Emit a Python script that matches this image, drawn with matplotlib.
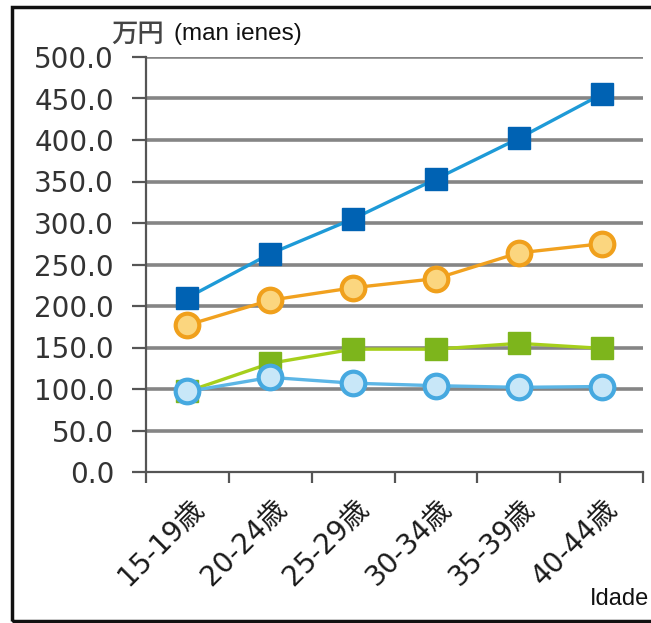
import matplotlib.pyplot as plt
from matplotlib.patches import Rectangle
from matplotlib.ticker import FixedLocator, NullFormatter
import matplotlib.transforms as mtransforms

# Data (万円)
ages = ["15-19歳", "20-24歳", "25-29歳", "30-34歳", "35-39歳", "40-44歳"]
dark_blue = [210, 263, 305, 353, 402, 455]
orange = [177, 207, 222, 233, 264, 275]
green = [97, 131, 148, 148, 155, 149]
light_blue = [97, 114, 107, 104, 102, 103]

yticks = [0, 50, 100, 150, 200, 250, 300, 350, 400, 450, 500]

W, H = 651, 623
fig = plt.figure(figsize=(W / 100, H / 100), dpi=100)
ax = fig.add_axes([146 / W, (H - 472) / H, (643 - 146) / W, (472 - 57) / H])

x = list(range(len(ages)))

# gridlines
for v in yticks[1:]:
    ax.axhline(v, color="#858585", lw=2.6, zorder=1)

# series
ax.plot(x, green, color="#a6cf1c", lw=2.4, marker="s", ms=16.5,
        mfc="#7db51c", mec="#7db51c", zorder=3)
ax.plot(x, light_blue, color="#5cb6e6", lw=2.4, marker="o", ms=17,
        mfc="#c8e7f8", mec="#46a9e0", mew=3, zorder=4)
ax.plot(x, orange, color="#f1a11f", lw=2.4, marker="o", ms=17,
        mfc="#fbd67f", mec="#f0a01c", mew=3, zorder=5)
ax.plot(x, dark_blue, color="#1e9ad7", lw=2.4, marker="s", ms=16.5,
        mfc="#0062b3", mec="#0062b3", zorder=6)

ax.set_xlim(-0.5, len(ages) - 0.5)
ax.set_ylim(0, 500)

for s in ["top", "right"]:
    ax.spines[s].set_visible(False)
for s in ["left", "bottom"]:
    ax.spines[s].set_color("#555555")
    ax.spines[s].set_linewidth(1.6)
    ax.spines[s].set_zorder(2)

ax.set_yticks(yticks)
ax.set_yticklabels([f"{v:.1f}" for v in yticks])
ax.tick_params(axis="y", direction="out", length=10, width=1.6,
               color="#555555", pad=13, labelsize=20, labelcolor="#333333")

# x: tick marks at category boundaries, labels at centers
ax.xaxis.set_major_locator(FixedLocator([i - 0.5 for i in range(len(ages) + 1)]))
ax.xaxis.set_major_formatter(NullFormatter())
ax.xaxis.set_minor_locator(FixedLocator(x))
ax.set_xticklabels(ages, minor=True)
ax.tick_params(axis="x", which="major", direction="out", length=8, width=1.6,
               color="#555555")
ax.tick_params(axis="x", which="minor", length=0, pad=16)

offset = mtransforms.ScaledTranslation(2 / 100, 0, fig.dpi_scale_trans)
for lab in ax.get_xticklabels(minor=True):
    lab.set_rotation(45)
    lab.set_ha("right")
    lab.set_va("top")
    lab.set_rotation_mode("anchor")
    lab.set_fontsize(20)
    lab.set_color("#1a1a1a")
    lab.set_family(["DejaVu Sans", "Noto Sans CJK JP"])
    lab.set_transform(lab.get_transform() + offset)

# labels
fig.text(111 / W, 1 - 42 / H, "万円", fontsize=19, color="#444444",
         family=["Noto Sans CJK JP"], fontweight="medium", va="baseline")
fig.text(174 / W, 1 - 40 / H, "(man ienes)", fontsize=17.5, color="#111111",
         family=["Liberation Sans"], va="baseline")
fig.text(649 / W, 1 - 605 / H, "Idade", fontsize=17, color="#111111",
         family=["Liberation Sans"], ha="right", va="baseline")

# figure frame
fig.patches.append(Rectangle((12 / W, 1 - 621 / H), 1.0, (621 - 7) / H,
                             transform=fig.transFigure, fill=False,
                             edgecolor="#111111", lw=2.5))

fig.savefig("out.png", dpi=100)
